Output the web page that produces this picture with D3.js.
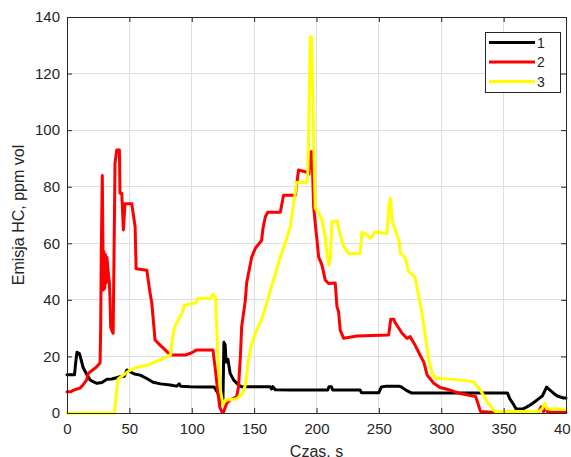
<!DOCTYPE html>
<html>
<head>
<meta charset="utf-8">
<script src="https://cdn.jsdelivr.net/npm/d3@7"></script>
<style>
  html, body { margin: 0; padding: 0; background: #fff; }
  svg { display: block; font-family: "Liberation Sans", Arial, sans-serif; }
</style>
</head>
<body>
<svg id="chart" width="571" height="457"></svg>
<script>
// HC emission over time for three runs
const seriesNames = ["1", "2", "3"];
const seriesColors = ["#000000", "#ff0000", "#ffff00"];

const xTicks = [0, 50, 100, 150, 200, 250, 300, 350, 400];
const yTicks = [0, 20, 40, 60, 80, 100, 120, 140];

// Run 1
const time1 = [0, 6, 7, 8, 10, 13, 16, 18.5, 20, 24, 28, 32, 36, 42.5, 46, 48, 50.5, 54, 58.6, 64, 69, 75, 82.7, 88, 90, 91, 98.7, 110, 118, 121, 123.5, 125, 125.8, 126.8, 127.5, 129, 130.8, 133.5, 137.5, 140, 150, 163, 164, 165, 167, 180, 200, 209, 210, 212, 213, 235, 236, 250, 252, 256, 266, 268, 272, 276, 300, 340, 353, 355, 358, 360, 365, 368, 372, 375, 378, 381, 384.5, 386, 390, 393, 398, 400];
const hc1 =   [13.5, 13.5, 18, 21.5, 21, 16, 13.5, 11.7, 11.3, 10.5, 10.8, 11.9, 12, 12.8, 13, 15.2, 14.6, 13.8, 13.4, 12.2, 10.9, 10.3, 9.9, 9.5, 10.3, 9.5, 9.3, 9.2, 9.2, 7, 3.5, 5, 25, 24, 18, 19, 14, 11.7, 9.9, 9.3, 9.3, 9.3, 8.5, 9.3, 8.2, 8.1, 8.1, 8.1, 9.3, 9.3, 8.1, 8.1, 7.2, 7.2, 9.2, 9.5, 9.5, 9.2, 8, 7.1, 7.1, 7.1, 7.1, 5, 3, 1.4, 1.4, 2, 3, 4, 5, 6, 9.2, 8.5, 7, 6, 5.3, 5.3];

// Run 2
const time2 = [0, 3, 5, 8, 10.4, 13, 15.8, 17, 20, 23, 26.5, 27, 27.5, 28.3, 28.8, 29.1, 29.6, 30.2, 30.8, 31.4, 32, 33, 34, 34.5, 35, 36, 37, 37.7, 38.5, 39.9, 42, 42.5, 43.9, 45.2, 46.5, 51.9, 54.6, 55.4, 64, 66.6, 68, 70.6, 74.6, 78.7, 82.7, 90, 95, 100, 104, 117, 119, 121, 122.5, 124, 125.4, 128, 130.8, 136, 137.5, 139, 140, 143, 144, 148, 151, 156, 157, 159, 161, 171, 173.6, 183, 185.6, 191, 194, 195.5, 196.4, 197.7, 199, 200.4, 201.7, 204.4, 207, 209.7, 215, 216.4, 217.7, 219, 221.8, 232.5, 257.9, 259.5, 262, 263, 268.6, 272.6, 275, 279, 283, 286, 288.7, 294, 299, 304.7, 314, 327.5, 329, 331.5, 340, 378, 380, 382, 383.6, 385, 388, 400];
const hc2 =   [7.5, 7.5, 8, 8.5, 8.8, 10, 11.7, 14, 15, 16, 17.7, 30, 58, 84, 60, 43.5, 57, 44, 56, 46, 55, 50, 46, 40, 30.5, 29, 28.2, 56.4, 88.3, 93, 93, 77.7, 77.7, 64.7, 74, 74, 65.9, 51, 50.5, 42.3, 38.8, 25.8, 24, 22.3, 20.5, 20.5, 20.5, 21.3, 22.3, 22.3, 15, 7, 2, 0.5, 0.3, 3.4, 4.6, 5.8, 9.3, 20, 30.5, 40, 46, 55, 58.3, 61, 65, 69.4, 71, 71, 77, 77, 85.9, 85.3, 84.5, 92.4, 92.4, 73, 67, 61, 55.2, 52.3, 47, 45.8, 46, 37.6, 35.8, 29.3, 26.4, 27.2, 27.6, 33.1, 33.1, 32, 28.2, 26.4, 27, 24, 20.5, 18, 13.4, 10.5, 9, 8.4, 7, 5.8, 4, 0.5, 0.3, 0.3, 2.2, 0.5, 2.5, 0.5, 0.3, 0.3];

// Run 3
const time3 = [0, 38, 39, 40, 41, 44, 47, 50, 55, 60, 65, 70, 76, 80, 83, 84, 86, 88, 92, 94, 103, 105, 115, 117, 119, 121, 123, 125, 127, 136, 141, 143, 145.5, 148, 152, 156, 160, 165.6, 171, 175, 179, 183, 184, 192.3, 193.1, 193.7, 195, 196, 197.7, 199, 201.7, 204.4, 207, 208.4, 209.7, 211, 212.4, 216.4, 219, 221.8, 225.8, 235, 236.5, 240.5, 243, 247, 256.6, 258, 259.2, 260.6, 263.2, 266, 267.3, 271, 274, 279, 282, 284.6, 287.3, 290, 292.7, 295.3, 312.7, 326, 331.5, 336.8, 342, 343.5, 378, 381, 383, 384.5, 400];
const hc3 =   [0, 0, 4, 9, 12, 13, 14, 15, 16, 16.5, 17, 18, 19, 20, 20.5, 25, 30, 32, 35, 38, 39, 40.5, 40.5, 42, 41, 20, 8, 3, 4.5, 5, 7, 10, 18.7, 24.6, 29.3, 33, 38.8, 47, 55.2, 60, 66, 78, 81.5, 81.5, 85.5, 97, 133, 133, 98, 72.3, 71, 68, 62.3, 56.4, 52.3, 54, 67.6, 68, 63, 58.8, 56.4, 56.4, 64, 63, 61.7, 64, 63.5, 73, 76, 68, 64.7, 61, 56.4, 55, 50, 48, 41, 35.2, 27, 18.7, 14, 12.3, 11.8, 11, 8, 4, 1, 0.5, 0.5, 1.5, 3.5, 1.5, 1.3];

const series = [
  { name: seriesNames[0], color: seriesColors[0], t: time1, v: hc1 },
  { name: seriesNames[1], color: seriesColors[1], t: time2, v: hc2 },
  { name: seriesNames[2], color: seriesColors[2], t: time3, v: hc3 }
];

const svg = d3.select("#chart");
const margin = { left: 67, top: 17, right: 5, bottom: 44 };
const W = 571, H = 457;
const iw = W - margin.left - margin.right;
const ih = H - margin.top - margin.bottom;

const x = d3.scaleLinear().domain([0, 400]).range([0, iw]);
const y = d3.scaleLinear().domain([0, 140]).range([ih, 0]);

const g = svg.append("g").attr("transform", `translate(${margin.left},${margin.top})`);

// grid
const gridColor = "#dfdfdf";
g.append("g").selectAll("line").data(xTicks).join("line")
  .attr("x1", d => x(d)).attr("x2", d => x(d))
  .attr("y1", 0).attr("y2", ih)
  .attr("stroke", gridColor).attr("stroke-width", 1)
  .attr("shape-rendering", "crispEdges");
g.append("g").selectAll("line").data(yTicks).join("line")
  .attr("x1", 0).attr("x2", iw)
  .attr("y1", d => y(d)).attr("y2", d => y(d))
  .attr("stroke", gridColor).attr("stroke-width", 1)
  .attr("shape-rendering", "crispEdges");

// data lines
const clipId = "plot-clip";
svg.append("defs").append("clipPath").attr("id", clipId)
  .append("rect").attr("x", -2).attr("y", -2).attr("width", iw + 4).attr("height", ih + 4);

const line = d3.line()
  .x(d => x(d[0]))
  .y(d => y(d[1]))
  .curve(d3.curveLinear);

const lines = g.append("g").attr("clip-path", `url(#${clipId})`);
series.forEach(s => {
  const pts = s.t.map((t, i) => [t, s.v[i]]);
  lines.append("path")
    .datum(pts)
    .attr("d", line)
    .attr("fill", "none")
    .attr("stroke", s.color)
    .attr("stroke-width", 3)
    .attr("stroke-linejoin", "round")
    .attr("stroke-linecap", "round");
});

// axes (box with inward ticks on all sides)
const axisColor = "#262626";
const tickLen = 5;
const bottomAxis = d3.axisBottom(x).tickValues(xTicks).tickSizeInner(-tickLen).tickSizeOuter(0).tickPadding(10);
const leftAxis = d3.axisLeft(y).tickValues(yTicks).tickSizeInner(-tickLen).tickSizeOuter(0).tickPadding(7);
const topAxis = d3.axisTop(x).tickValues(xTicks).tickSizeInner(-tickLen).tickSizeOuter(0).tickFormat("");
const rightAxis = d3.axisRight(y).tickValues(yTicks).tickSizeInner(-tickLen).tickSizeOuter(0).tickFormat("");

function styleAxis(sel) {
  sel.select(".domain").attr("stroke", axisColor).attr("stroke-width", 1);
  sel.selectAll(".tick line").attr("stroke", axisColor);
  sel.selectAll("text").attr("fill", axisColor).style("font-size", "15px")
    .style("font-family", "'Liberation Sans', Arial, sans-serif");
}

g.append("g").attr("transform", `translate(0,${ih})`).call(bottomAxis).call(styleAxis);
g.append("g").call(leftAxis).call(styleAxis);
g.append("g").call(topAxis).call(styleAxis);
g.append("g").attr("transform", `translate(${iw},0)`).call(rightAxis).call(styleAxis);

// axis titles
g.append("text")
  .attr("x", iw / 2).attr("y", ih + 44)
  .attr("text-anchor", "middle")
  .attr("fill", axisColor)
  .style("font-size", "16px")
  .text("Czas, s");

g.append("text")
  .attr("transform", `translate(${-43},${ih / 2}) rotate(-90)`)
  .attr("text-anchor", "middle")
  .attr("fill", axisColor)
  .style("font-size", "16px")
  .text("Emisja HC, ppm vol");

// legend
const legend = svg.append("g").attr("transform", "translate(485,32)");
legend.append("rect")
  .attr("width", 75).attr("height", 60)
  .attr("fill", "#fff")
  .attr("stroke", axisColor).attr("stroke-width", 1)
  .attr("shape-rendering", "crispEdges");
series.forEach((s, i) => {
  const ly = 10.5 + i * 19.5;
  legend.append("line")
    .attr("x1", 4).attr("x2", 50)
    .attr("y1", ly).attr("y2", ly)
    .attr("stroke", s.color).attr("stroke-width", 3);
  legend.append("text")
    .attr("x", 52).attr("y", ly + 5)
    .attr("fill", axisColor)
    .style("font-size", "14px")
    .text(s.name);
});
</script>
</body>
</html>
